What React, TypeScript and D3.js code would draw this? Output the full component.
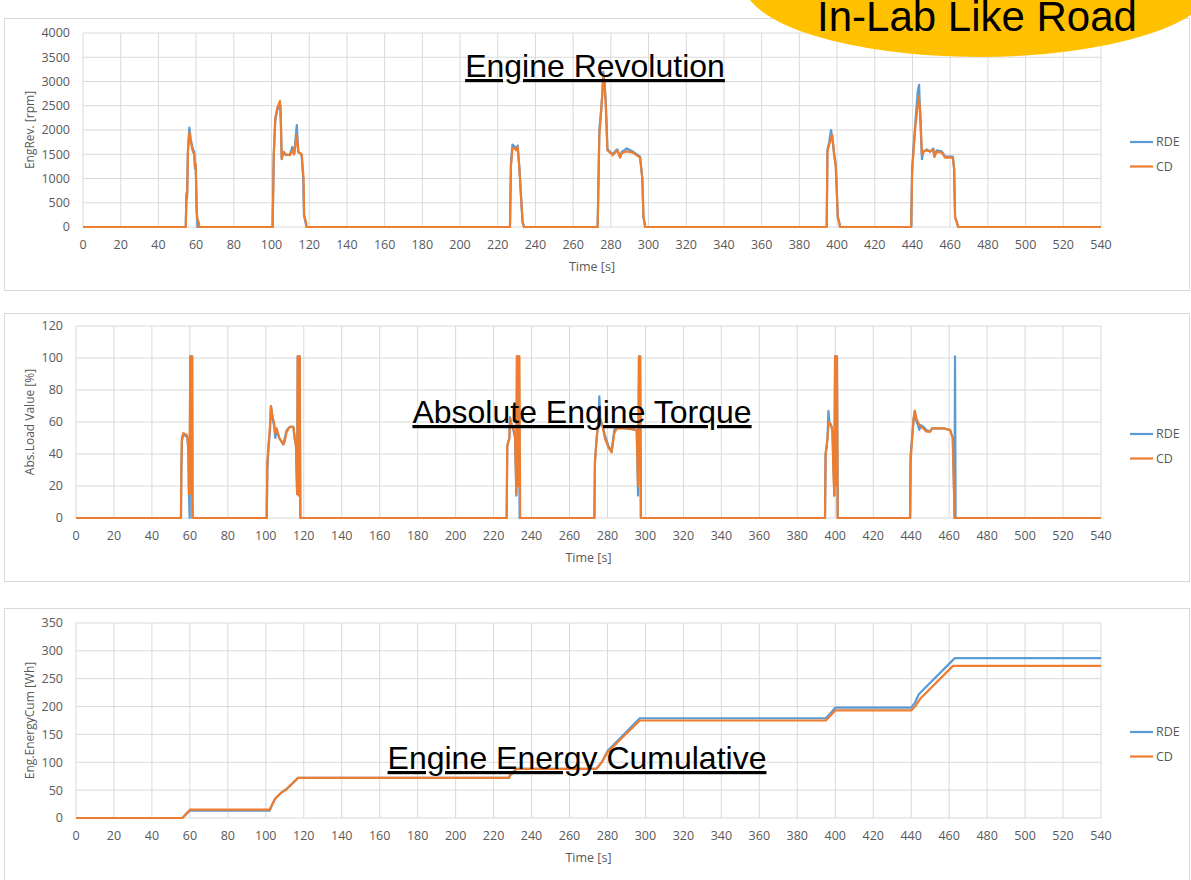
import React from 'react';
import * as d3 from 'd3';

type Pt = [number, number];

// time axis shared by all three charts
const timeTicks = d3.range(0, 541, 20);
const seriesNames = ['RDE', 'CD'];
const seriesColors = ['#5B9BD5', '#ED7D31'];

// Engine revolution [rpm]
const revRDE: Pt[] = [
  [0, 0], [54.5, 0], [54.9, 700], [55.2, 600], [55.6, 1500], [56.4, 2050], [57.2, 1800], [58.3, 1600], [59, 1550], [59.4, 1200], [59.8, 1250], [60.3, 400], [60.7, 0],
  [100.6, 0], [101.2, 1500], [102, 2200], [103, 2400], [104.3, 2550], [104.7, 2500], [105, 2100], [105.4, 1400], [106.3, 1550], [107.5, 1480], [109.8, 1500], [111, 1650], [112, 1500], [113.4, 2100], [114.2, 1550], [116, 1480], [116.8, 1000], [117.2, 250], [118, 100], [118.5, 0],
  [226.5, 0], [227, 1300], [227.8, 1700], [229.2, 1650], [229.8, 1600], [230.6, 1680], [231.5, 1200], [232.7, 400], [233.2, 100], [233.9, 0],
  [273, 0], [273.3, 700], [273.9, 2000], [274.8, 2400], [275.4, 2700], [276, 3200], [276.5, 3000], [277.3, 2600], [278.2, 1600], [279.6, 1550], [281, 1500], [282.7, 1580], [283.4, 1600], [284.9, 1450], [285.8, 1550], [288.4, 1620], [291.9, 1550], [295.5, 1450], [296.7, 1000], [297.3, 200], [297.8, 100], [298.2, 0],
  [394.5, 0], [394.9, 1600], [395.8, 1750], [396.8, 2000], [397.5, 1800], [398.5, 1500], [399.3, 1300], [400.4, 200], [401.1, 100], [401.6, 0],
  [439.3, 0], [439.8, 1200], [440.5, 1600], [441.6, 2200], [442.8, 2800], [443.5, 2930], [444.1, 2300], [445, 1400], [445.8, 1550], [447.6, 1600], [449.4, 1550], [451, 1620], [451.6, 1450], [452.8, 1580], [455.5, 1560], [457.3, 1450], [461.4, 1450], [462.1, 1200], [462.6, 200], [463.5, 100], [464.3, 0],
  [540, 0],
];
const revCD: Pt[] = [
  [0, 0], [54.5, 0], [54.9, 650], [55.3, 700], [55.7, 1600], [56.4, 1950], [57.2, 1750], [58.3, 1550], [59, 1500], [59.4, 1250], [59.8, 1300], [60.3, 300], [60.8, 150], [61.4, 100], [61.7, 0],
  [100.6, 0], [101.2, 1500], [102, 2250], [103, 2450], [104.5, 2600], [105, 2100], [105.4, 1400], [106.3, 1550], [107.5, 1500], [109.8, 1480], [111, 1580], [112, 1500], [113.4, 1900], [114.2, 1550], [116, 1500], [117, 1000], [117.3, 250], [118.3, 100], [118.7, 0],
  [226.5, 0], [227, 1250], [227.8, 1620], [229.2, 1620], [229.8, 1580], [230.6, 1650], [231.5, 1200], [232.7, 400], [233.2, 100], [233.9, 0],
  [273, 0], [273.3, 600], [273.9, 1900], [274.8, 2350], [275.4, 2700], [276.2, 3150], [276.8, 2900], [277.3, 2500], [278.2, 1580], [279.6, 1530], [281, 1480], [282.7, 1550], [283.4, 1580], [284.9, 1430], [285.8, 1520], [288.4, 1560], [291.9, 1530], [295.5, 1430], [296.7, 1000], [297.3, 200], [297.8, 100], [298.2, 0],
  [394.5, 0], [394.9, 1550], [395.8, 1700], [397.4, 1900], [398, 1700], [398.5, 1450], [399.3, 1250], [400.4, 200], [401.1, 100], [401.6, 0],
  [439.3, 0], [439.8, 1100], [440.5, 1550], [441.6, 2100], [442.8, 2500], [443.2, 2700], [444.1, 2400], [445, 1500], [445.8, 1560], [447.6, 1580], [449.4, 1560], [451, 1600], [451.6, 1450], [452.8, 1550], [455.5, 1540], [457.3, 1430], [461.4, 1430], [462.1, 1200], [462.6, 200], [463.5, 100], [464.3, 0],
  [540, 0],
];

// Absolute load value [%]
const loadRDE: Pt[] = [
  [0, 0], [55.3, 0], [55.5, 30], [55.8, 48], [56.5, 52], [58.3, 51], [58.8, 49], [59.2, 40], [59.5, 15], [59.9, 0], [60.2, 101], [61, 101], [61.3, 0],
  [100.5, 0], [100.8, 30], [101.5, 45], [102.2, 55], [102.7, 70], [103.6, 62], [104.3, 58], [105, 50], [105.7, 55], [107.1, 50], [109.2, 46], [110, 50], [111, 55], [112.7, 57], [114.5, 57], [115.2, 50], [115.9, 45], [116.5, 15], [116.8, 101], [117.8, 101], [118.2, 0],
  [226.9, 0], [227.2, 45], [228.3, 50], [228.7, 63], [229.5, 58], [230.4, 55], [231.3, 50], [232, 14], [232.3, 101], [233.3, 101], [233.7, 0],
  [273.1, 0], [273.4, 35], [274.3, 50], [275.2, 60], [275.7, 76], [276.2, 62], [277.5, 57], [278.6, 52], [280.5, 45], [282.2, 42], [283.6, 55], [284.9, 57], [290.2, 56], [295.4, 55], [296.1, 14], [296.6, 101], [297.2, 101], [297.6, 0],
  [394.6, 0], [394.9, 40], [395.5, 45], [395.9, 50], [396.4, 67], [396.9, 60], [397.8, 58], [398.5, 55], [399, 35], [399.5, 14], [399.9, 101], [400.9, 101], [401.3, 0],
  [439.4, 0], [439.7, 40], [440.5, 50], [441.2, 60], [441.9, 67], [442.8, 60], [443.6, 58], [444.3, 55], [445.2, 58], [446.4, 57], [448, 55], [449.9, 54], [451, 56], [452.6, 56], [457, 56], [460.5, 55], [461.9, 50], [462.6, 15], [462.8, 0], [463.1, 101], [463.4, 0],
  [540, 0],
];
const loadCD: Pt[] = [
  [0, 0], [55.3, 0], [55.5, 30], [55.8, 50], [56.5, 53], [58.3, 52], [58.8, 50], [59.2, 42], [59.5, 15], [59.8, 30], [60.2, 101], [60.6, 15], [60.9, 101], [61.3, 101], [61.5, 0],
  [100.5, 0], [100.8, 35], [101.5, 47], [102.2, 57], [102.7, 70], [103.6, 63], [104.3, 60], [105, 53], [105.7, 56], [107.1, 50], [109.2, 46], [110, 48], [111, 54], [112.7, 57], [114.5, 57], [115.2, 50], [115.9, 45], [116.5, 15], [116.8, 101], [117.1, 14], [117.4, 101], [117.9, 101], [118.2, 0],
  [226.9, 0], [227.2, 45], [228.3, 50], [228.7, 62], [229.5, 58], [230.4, 56], [231.3, 52], [232, 15], [232.3, 101], [232.8, 20], [233.1, 101], [233.6, 101], [234, 0],
  [273.1, 0], [273.4, 35], [274.3, 50], [275.2, 60], [276, 62], [277.5, 57], [278.6, 50], [280.5, 44], [282.2, 41], [283.6, 53], [284.9, 56], [290.2, 56], [295.4, 55], [296.1, 20], [296.6, 101], [297.2, 101], [297.6, 0],
  [394.6, 0], [394.9, 40], [395.5, 45], [395.9, 50], [396.6, 60], [397.8, 58], [398.5, 55], [399, 30], [399.5, 14], [399.9, 101], [400.3, 20], [400.6, 101], [400.9, 101], [401.3, 0],
  [439.4, 0], [439.7, 35], [440.5, 50], [441.2, 62], [441.9, 67], [442.8, 62], [443.6, 60], [444.3, 58], [445.2, 57], [446.4, 56], [448, 54], [449.9, 54], [451, 56], [452.6, 56], [457, 56], [460.5, 55], [461.9, 50], [462.6, 15], [462.9, 0],
  [540, 0],
];

// Engine energy cumulative [Wh]
const energyRDE: Pt[] = [
  [0, 0], [56, 0], [60, 13], [102, 13], [103.5, 25], [105, 35], [108, 45], [111, 52], [117, 72], [228, 72], [229, 78], [232, 88], [274, 88],
  [277, 100], [280, 120], [297, 179], [395, 179], [397, 186], [400, 198], [440, 198], [442, 207], [444, 222], [463, 287], [540, 287],
];
const energyCD: Pt[] = [
  [0, 0], [56, 0], [60, 15], [102, 15], [103.5, 25], [105, 35], [108, 45], [111, 52], [117, 72], [228, 72], [229, 78], [232, 88], [274, 88],
  [277, 100], [280, 118], [297, 175], [395, 175], [397, 182], [400, 193], [440, 193], [442, 200], [445, 215], [462, 273], [540, 273],
];

const revTicks = d3.range(0, 4001, 500);
const loadTicks = d3.range(0, 121, 20);
const energyTicks = d3.range(0, 351, 50);

const tickFont = '"Open Sans", "DejaVu Sans", sans-serif';
const grey = '#595959';
const gridColor = '#D9D9D9';

type PanelProps = {
  box: { top: number; bottom: number };
  plot: { left: number; right: number; top: number; bottom: number };
  yTicks: number[];
  yTitle: string;
  title: string;
  titleX: number;
  titleY: number;
  legendY: number;
  series: Pt[][];
};

function Panel({ box, plot, yTicks, yTitle, title, titleX, titleY, legendY, series }: PanelProps) {
  const x = d3.scaleLinear().domain([0, 540]).range([plot.left, plot.right]);
  const y = d3.scaleLinear().domain([0, yTicks[yTicks.length - 1]]).range([plot.bottom, plot.top]);
  const line = d3.line<Pt>().x(d => x(d[0])).y(d => y(d[1]));

  return (
    <g>
      <rect x={4.5} y={box.top + 0.5} width={1185} height={box.bottom - box.top} fill="#fff" stroke={gridColor} />
      {yTicks.map(t => (
        <line key={'h' + t} x1={plot.left} x2={plot.right} y1={y(t)} y2={y(t)} stroke={gridColor} />
      ))}
      {timeTicks.map(t => (
        <line key={'v' + t} x1={x(t)} x2={x(t)} y1={plot.top} y2={plot.bottom} stroke={gridColor} />
      ))}
      {yTicks.map(t => (
        <text key={'yl' + t} x={plot.left - 13} y={y(t)} dy="0.35em" textAnchor="end"
          fontFamily={tickFont} fontSize={12.5} fill={grey}>{t}</text>
      ))}
      {timeTicks.map(t => (
        <text key={'xl' + t} x={x(t)} y={plot.bottom + 18} dy="0.35em" textAnchor="middle"
          fontFamily={tickFont} fontSize={12.5} fill={grey}>{t}</text>
      ))}
      <text x={(plot.left + plot.right) / 2} y={plot.bottom + 40} dy="0.35em" textAnchor="middle"
        fontFamily={tickFont} fontSize={12.5} fill={grey}>Time [s]</text>
      <text transform={`translate(30,${(plot.top + plot.bottom) / 2}) rotate(-90)`} dy="0.35em" textAnchor="middle"
        fontFamily={tickFont} fontSize={12} fill={grey}>{yTitle}</text>
      {series.map((s, i) => (
        <path key={'s' + i} d={line(s) || ''} fill="none" stroke={seriesColors[i]} strokeWidth={2.2} strokeLinejoin="round" />
      ))}
      {seriesNames.map((n, i) => (
        <g key={n} transform={`translate(1130,${legendY + i * 24.5})`}>
          <line x1={0} x2={23} y1={0} y2={0} stroke={seriesColors[i]} strokeWidth={2.2} />
          <text x={26} y={0} dy="0.35em" fontFamily={tickFont} fontSize={12.5} fill={grey}>{n}</text>
        </g>
      ))}
      <text x={titleX} y={titleY} textAnchor="middle" fontFamily='"Liberation Sans", Arial, sans-serif'
        fontSize={32} fill="#000" textDecoration="underline">{title}</text>
    </g>
  );
}

export default function App() {
  return (
    <svg width={1191} height={880} style={{ position: 'absolute', left: 0, top: 0, background: '#fff' }}>
      <rect width={1191} height={880} fill="#fff" />
      <Panel box={{ top: 18, bottom: 290 }} plot={{ left: 83, right: 1101, top: 33, bottom: 227 }}
        yTicks={revTicks} yTitle="EngRev. [rpm]" title="Engine Revolution" titleX={595} titleY={77}
        legendY={142} series={[revRDE, revCD]} />
      <Panel box={{ top: 313, bottom: 581 }} plot={{ left: 76, right: 1101, top: 326, bottom: 518 }}
        yTicks={loadTicks} yTitle="Abs.Load Value [%]" title="Absolute Engine Torque" titleX={582} titleY={423}
        legendY={434} series={[loadRDE, loadCD]} />
      <Panel box={{ top: 608, bottom: 900 }} plot={{ left: 76, right: 1101, top: 623, bottom: 818 }}
        yTicks={energyTicks} yTitle="Eng.EnergyCum [Wh]" title="Engine Energy Cumulative" titleX={577} titleY={769}
        legendY={732} series={[energyRDE, energyCD]} />
      <ellipse cx={979} cy={-18} rx={236} ry={75} fill="#FFC000" />
      <text x={977} y={31} textAnchor="middle" fontFamily='"Liberation Sans", Arial, sans-serif' fontSize={42} fill="#000">
        In-Lab Like Road
      </text>
    </svg>
  );
}
